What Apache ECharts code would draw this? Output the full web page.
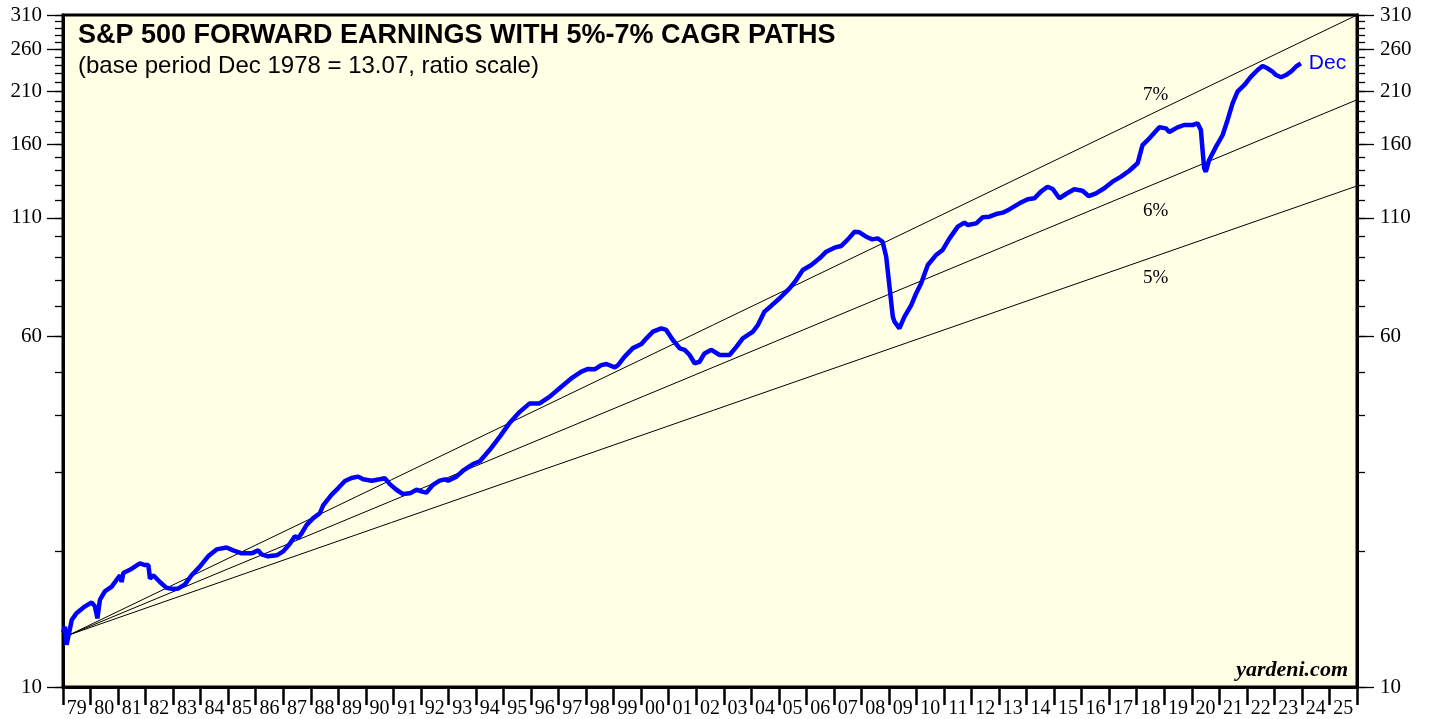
<!DOCTYPE html>
<html>
<head>
<meta charset="utf-8">
<title>S&amp;P 500 Forward Earnings</title>
<script src="https://cdn.jsdelivr.net/npm/echarts@6/dist/echarts.min.js"></script>
<style>
  html, body { margin: 0; padding: 0; background: #fff; }
  #chart { width: 1429px; height: 719px; }
</style>
</head>
<body>
<div id="chart"></div>
<script>
// 年份标签（刻度之间）
var yearLabels = ['79','80','81','82','83','84','85','86','87','88','89','90','91','92','93','94',
  '95','96','97','98','99','00','01','02','03','04','05','06','07','08','09','10','11','12','13',
  '14','15','16','17','18','19','20','21','22','23','24','25'];

// y轴刻度（对数坐标）
var majorTicks = [10, 60, 110, 160, 210, 260, 310];
var minorTicks = [10, 20, 30, 40, 50, 60, 70, 80, 90, 100, 110, 120, 130, 140, 150, 160, 170,
  180, 190, 200, 210, 220, 230, 240, 250, 260, 270, 280, 290, 300, 310];

// 远期盈利 [年份, 数值]
var forwardEarnings = [
  [1979.00, 13.2], [1979.07, 13.6], [1979.13, 12.4], [1979.32, 14.1], [1979.50, 14.6],
  [1979.80, 15.1], [1980.04, 15.4], [1980.16, 15.1], [1980.25, 14.2], [1980.34, 15.6],
  [1980.52, 16.3], [1980.77, 16.7], [1980.95, 17.3], [1981.07, 17.7], [1981.13, 17.1],
  [1981.19, 17.9], [1981.43, 18.2], [1981.61, 18.5], [1981.79, 18.8], [1981.98, 18.65],
  [1982.10, 18.65], [1982.16, 17.4], [1982.28, 17.7], [1982.52, 17.1], [1982.76, 16.6],
  [1983.00, 16.5], [1983.19, 16.55], [1983.43, 16.9], [1983.67, 17.7], [1983.97, 18.5],
  [1984.27, 19.5], [1984.58, 20.2], [1984.94, 20.4], [1985.18, 20.1], [1985.49, 19.8],
  [1985.85, 19.8], [1986.09, 20.1], [1986.21, 19.7], [1986.45, 19.5], [1986.76, 19.6],
  [1987.00, 20.0], [1987.24, 20.8], [1987.42, 21.6], [1987.54, 21.4], [1987.66, 21.9],
  [1987.85, 22.9], [1988.09, 23.7], [1988.33, 24.3], [1988.45, 25.3], [1988.75, 26.7],
  [1988.99, 27.6], [1989.24, 28.65], [1989.48, 29.1], [1989.72, 29.3], [1989.90, 28.9],
  [1990.21, 28.7], [1990.51, 28.9], [1990.69, 29.05], [1990.87, 28.2], [1991.11, 27.4],
  [1991.35, 26.8], [1991.60, 26.9], [1991.84, 27.4], [1992.08, 27.1], [1992.20, 27.0],
  [1992.44, 28.1], [1992.68, 28.7], [1992.87, 28.9], [1992.99, 28.7], [1993.29, 29.3],
  [1993.53, 30.2], [1993.89, 31.25], [1994.14, 31.7], [1994.50, 33.6], [1994.86, 35.9],
  [1995.23, 38.6], [1995.59, 40.8], [1995.95, 42.6], [1996.31, 42.6], [1996.68, 44.1],
  [1997.10, 46.4], [1997.46, 48.4], [1997.83, 50.1], [1998.07, 50.8], [1998.31, 50.7],
  [1998.55, 51.8], [1998.74, 52.1], [1999.04, 51.2], [1999.16, 51.8], [1999.40, 54.1],
  [1999.70, 56.5], [2000.01, 57.7], [2000.19, 59.4], [2000.43, 61.45], [2000.73, 62.5],
  [2000.91, 62.0], [2001.15, 58.9], [2001.40, 56.45], [2001.58, 56.0], [2001.76, 54.55],
  [2001.94, 52.3], [2002.12, 52.7], [2002.30, 55.0], [2002.55, 56.0], [2002.85, 54.55],
  [2003.21, 54.55], [2003.45, 56.8], [2003.69, 59.4], [2004.06, 61.45], [2004.24, 63.6],
  [2004.48, 68.1], [2004.72, 70.1], [2005.03, 72.9], [2005.39, 76.7], [2005.63, 80.0],
  [2005.87, 84.2], [2006.18, 86.4], [2006.48, 89.4], [2006.72, 92.5], [2007.02, 94.4],
  [2007.26, 95.2], [2007.51, 98.5], [2007.75, 102.4], [2007.93, 102.1], [2008.17, 99.85],
  [2008.39, 98.5], [2008.59, 99.0], [2008.77, 97.3], [2008.90, 90.1], [2009.02, 77.3],
  [2009.14, 66.3], [2009.20, 64.7], [2009.38, 62.5], [2009.56, 66.3], [2009.81, 70.4],
  [2009.99, 74.8], [2010.17, 78.7], [2010.41, 86.4], [2010.71, 90.9], [2010.95, 93.3],
  [2011.20, 99.0], [2011.50, 105.1], [2011.74, 107.3], [2011.86, 106.0], [2012.17, 106.9],
  [2012.41, 110.3], [2012.65, 110.6], [2012.89, 112.1], [2013.13, 112.9], [2013.37, 114.8],
  [2013.74, 118.4], [2014.04, 120.9], [2014.28, 121.5], [2014.52, 125.7], [2014.76, 128.9],
  [2014.95, 127.4], [2015.19, 121.5], [2015.43, 124.2], [2015.73, 127.2], [2016.03, 126.3],
  [2016.25, 122.9], [2016.52, 124.6], [2016.82, 127.9], [2017.12, 132.3], [2017.43, 135.7],
  [2017.73, 139.9], [2018.03, 145.3], [2018.21, 159.5], [2018.46, 165.1], [2018.82, 174.6],
  [2019.06, 173.7], [2019.18, 170.5], [2019.48, 174.6], [2019.72, 176.7], [2020.03, 176.7],
  [2020.21, 178.2], [2020.33, 172.2], [2020.39, 155.5], [2020.45, 141.6], [2020.51, 139.2],
  [2020.63, 147.8], [2020.88, 158.2], [2021.12, 167.9], [2021.30, 181.3], [2021.48, 197.4],
  [2021.66, 209.5], [2021.91, 216.8], [2022.15, 226.2], [2022.39, 234.1], [2022.57, 238.9],
  [2022.75, 236.1], [2022.93, 232.0], [2023.06, 228.1], [2023.24, 225.5], [2023.42, 228.1],
  [2023.60, 232.0], [2023.78, 238.0], [2023.96, 242.2]
];

// 5%-7% 复合增长路径（起点：基期 13.07）
var cagr5 = [[1979.25, 13.07], [2026, 129.4]];
var cagr6 = [[1979.25, 13.07], [2026, 201]];
var cagr7 = [[1979.25, 13.07], [2026, 310]];

var serif = 'Liberation Serif';
var sans = 'Liberation Sans';

function logAxis(pos, ticks, len, showLabel) {
  return {
    type: 'log',
    logBase: 10,
    min: 10,
    max: 310,
    position: pos,
    axisLine: { show: true, lineStyle: { color: '#000', width: 3 } },
    axisTick: { show: true, customValues: ticks, length: len, lineStyle: { color: '#000', width: 1.3 } },
    axisLabel: {
      show: showLabel,
      customValues: ticks,
      margin: pos === 'left' ? 21 : 23,
      color: '#000',
      fontFamily: serif,
      fontSize: 21
    },
    splitLine: { show: false },
    minorTick: { show: false }
  };
}

var myChart = echarts.init(document.getElementById('chart'));
var option = {
  animation: false,
  backgroundColor: '#fff',
  grid: {
    left: 63,
    right: 72,
    top: 15,
    bottom: 32,
    show: true,
    backgroundColor: '#ffffe6',
    borderColor: '#000',
    borderWidth: 3
  },
  xAxis: [
    { type: 'value', min: 1979, max: 2026, show: false },
    {
      type: 'category',
      data: yearLabels,
      position: 'bottom',
      boundaryGap: true,
      axisLine: { show: true, lineStyle: { color: '#000', width: 3 } },
      axisTick: { show: true, interval: 0, alignWithLabel: false, length: 18, lineStyle: { color: '#000', width: 2.5 } },
      axisLabel: { interval: 0, margin: 12, color: '#000', fontFamily: serif, fontSize: 20 },
      splitLine: { show: false }
    }
  ],
  yAxis: [
    logAxis('left', majorTicks, 16, true),
    logAxis('left', minorTicks, 8, false),
    logAxis('right', majorTicks, 17, true),
    logAxis('right', minorTicks, 8, false)
  ],
  series: [
    { type: 'line', data: cagr5, showSymbol: false, silent: true, lineStyle: { color: '#000', width: 1 } },
    { type: 'line', data: cagr6, showSymbol: false, silent: true, lineStyle: { color: '#000', width: 1 } },
    { type: 'line', data: cagr7, showSymbol: false, silent: true, lineStyle: { color: '#000', width: 1 } },
    {
      name: 'Forward Earnings',
      type: 'line',
      data: forwardEarnings,
      showSymbol: false,
      z: 5,
      lineStyle: { color: '#0000ff', width: 4.5 },
      endLabel: {
        show: true,
        formatter: 'Dec',
        color: '#0000ff',
        fontFamily: sans,
        fontSize: 21,
        distance: 8
      }
    }
  ],
  graphic: [
    { type: 'text', left: 78, top: 22, style: { text: 'S&P 500 FORWARD EARNINGS WITH 5%-7% CAGR PATHS', font: 'bold 27px "Liberation Sans"', fill: '#000' } },
    { type: 'text', left: 78, top: 54, style: { text: '(base period Dec 1978 = 13.07, ratio scale)', font: '24px "Liberation Sans"', fill: '#000' } },
    { type: 'text', left: 1143, top: 86, style: { text: '7%', font: '19px "Liberation Serif"', fill: '#000' } },
    { type: 'text', left: 1143, top: 202, style: { text: '6%', font: '19px "Liberation Serif"', fill: '#000' } },
    { type: 'text', left: 1143, top: 269, style: { text: '5%', font: '19px "Liberation Serif"', fill: '#000' } },
    { type: 'text', right: 81, top: 659, style: { text: 'yardeni.com', font: 'italic bold 22px "Liberation Serif"', fill: '#000' } }
  ]
};
myChart.setOption(option);
window.addEventListener('resize', function () {
  myChart.resize();
});
</script>
</body>
</html>
